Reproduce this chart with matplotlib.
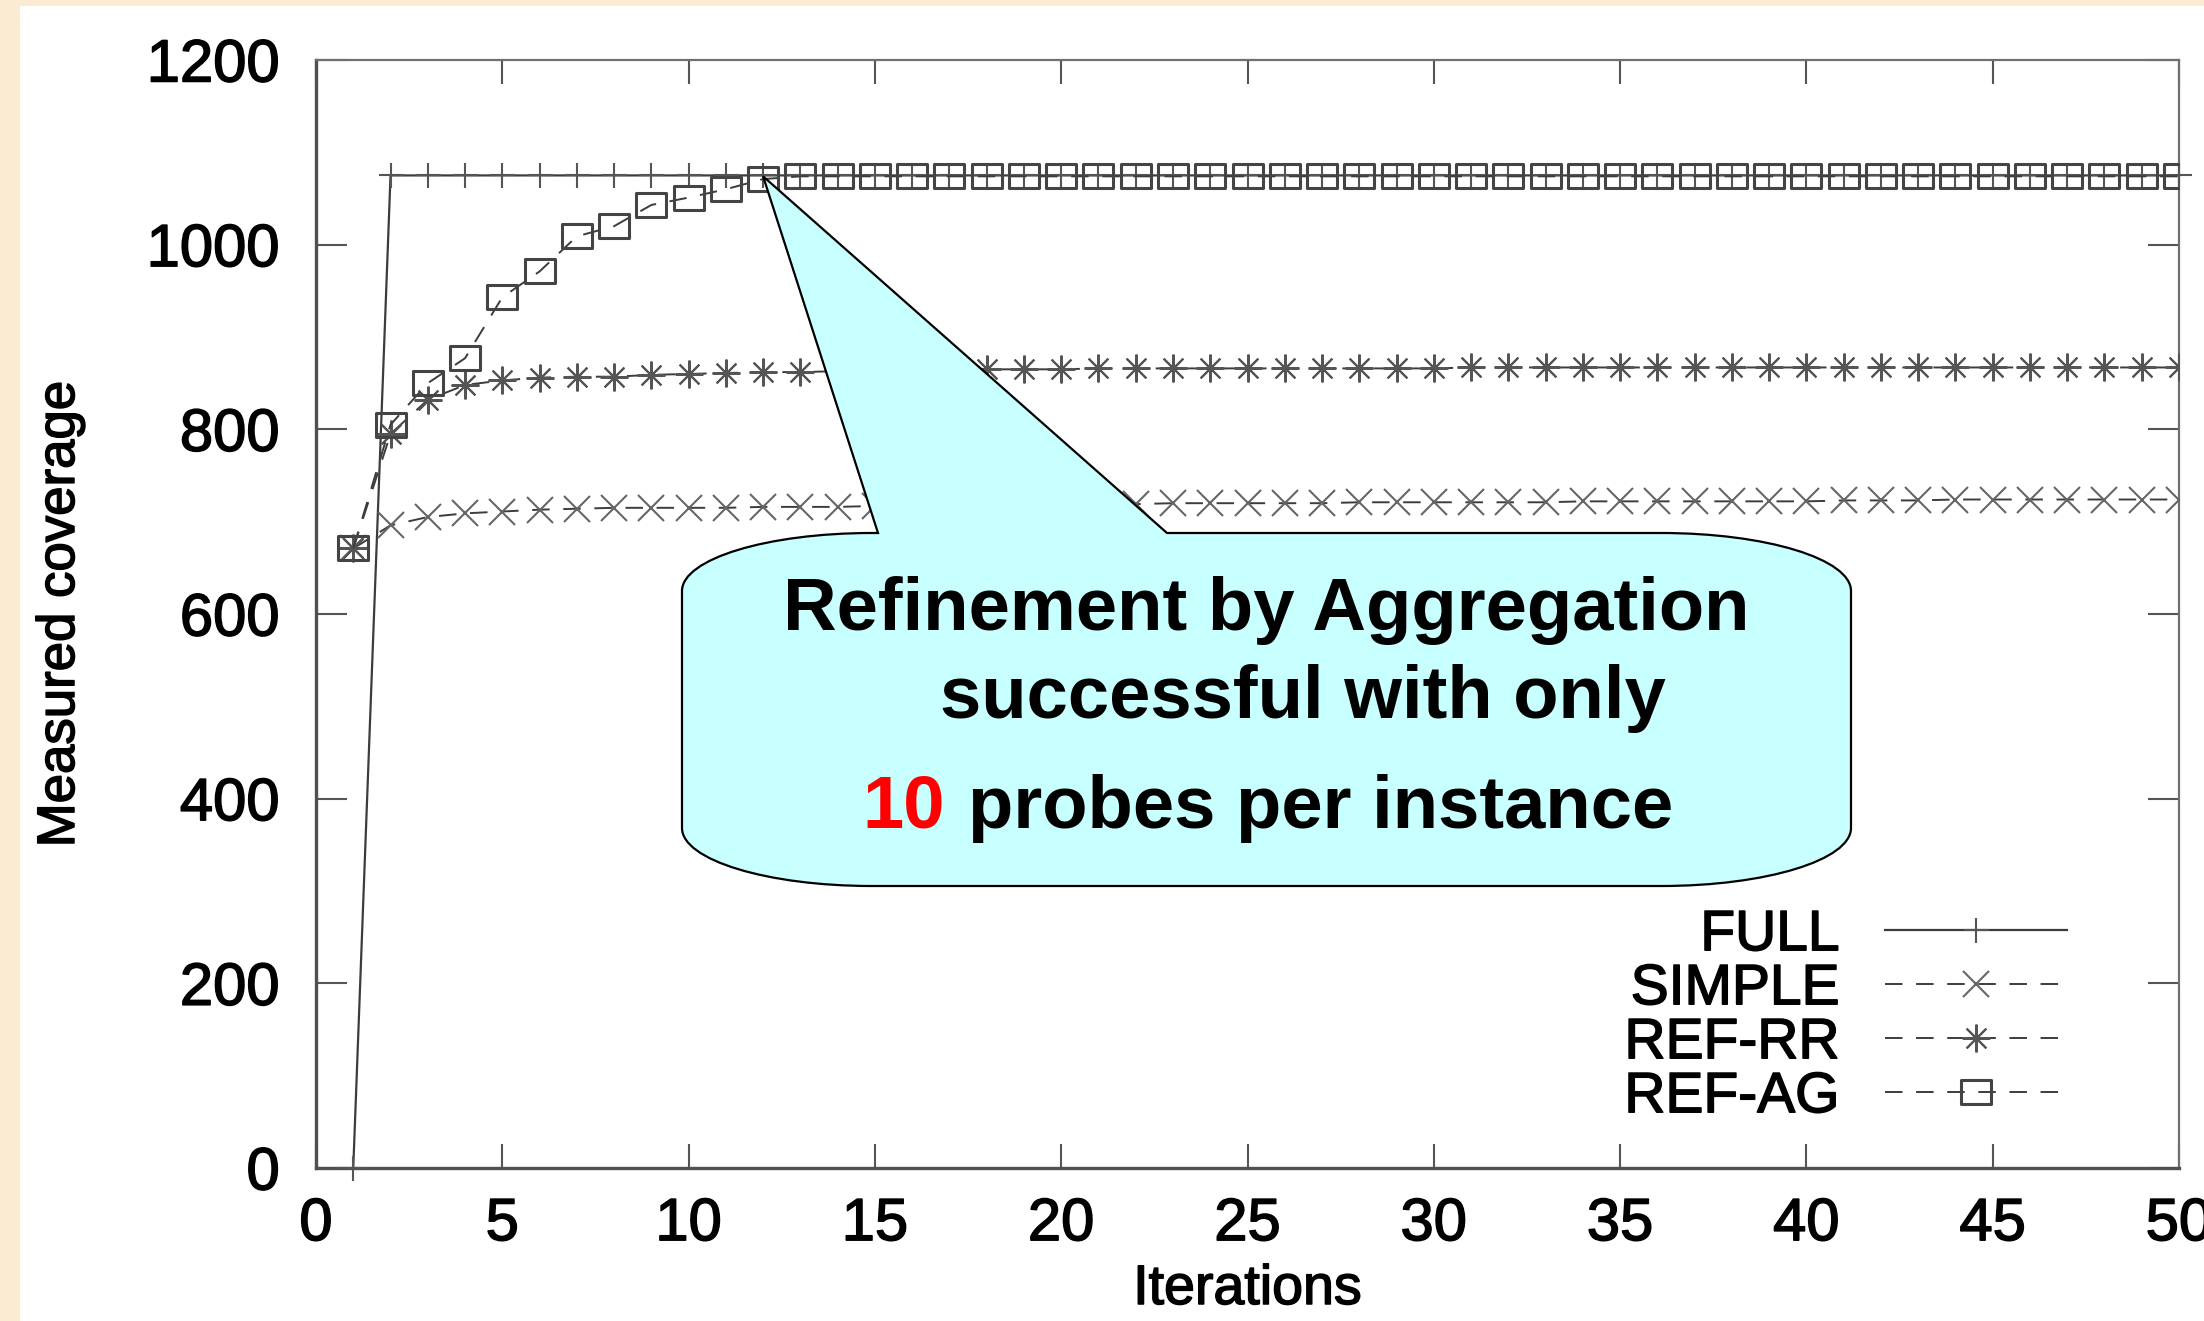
import matplotlib
matplotlib.use("Agg")
import matplotlib.pyplot as plt
import matplotlib.patheffects as pe
from matplotlib.path import Path
from matplotlib.patches import PathPatch, Rectangle

W, H = 2204, 1321
FONT = "Liberation Sans"

iterations = list(range(1, 51))

full = [0, 1075, 1075, 1075, 1075, 1075, 1075, 1075, 1075, 1075,
        1075, 1075, 1075, 1075, 1075, 1075, 1075, 1075, 1075, 1075,
        1075, 1075, 1075, 1075, 1075, 1075, 1075, 1075, 1075, 1075,
        1075, 1075, 1075, 1075, 1075, 1075, 1075, 1075, 1075, 1075,
        1075, 1075, 1075, 1075, 1075, 1075, 1075, 1075, 1075, 1075]

simple = [671, 696, 705, 709, 711, 713, 714, 715, 715, 715,
          715, 716, 716, 716, 717, 717, 717, 718, 718, 719,
          719, 719, 720, 720, 720, 720, 720, 721, 721, 721,
          721, 721, 721, 722, 722, 722, 722, 722, 722, 722,
          723, 723, 723, 724, 724, 724, 724, 724, 724, 724]

ref_rr = [671, 795, 832, 848, 853, 856, 857, 857, 859, 860,
          861, 862, 862, 863, 863, 864, 864, 865, 865, 865,
          866, 866, 866, 866, 866, 866, 866, 866, 866, 866,
          867, 867, 867, 867, 867, 867, 867, 867, 867, 867,
          867, 867, 867, 867, 867, 867, 867, 867, 867, 867]

ref_ag = [671, 805, 850, 877, 943, 971, 1009, 1020, 1043, 1051,
          1060, 1071, 1074, 1074, 1074, 1074, 1074, 1074, 1074, 1074,
          1074, 1074, 1074, 1074, 1074, 1074, 1074, 1074, 1074, 1074,
          1074, 1074, 1074, 1074, 1074, 1074, 1074, 1074, 1074, 1074,
          1074, 1074, 1074, 1074, 1074, 1074, 1074, 1074, 1074, 1074]

labels = ["FULL", "SIMPLE", "REF-RR", "REF-AG"]
xticks = [0, 5, 10, 15, 20, 25, 30, 35, 40, 45, 50]
yticks = [0, 200, 400, 600, 800, 1000, 1200]

fig = plt.figure(figsize=(W / 100, H / 100), dpi=100)
fig.patch.set_facecolor("white")
cream = "#fbebd3"
fig.patches.append(Rectangle((0, 0), 20 / W, 1, transform=fig.transFigure,
                             facecolor=cream, edgecolor="none", zorder=-5))
fig.patches.append(Rectangle((0, 1 - 6 / H), 1, 6 / H, transform=fig.transFigure,
                             facecolor=cream, edgecolor="none", zorder=-5))

ax = fig.add_axes([316 / W, 1 - 1168 / H, (2179 - 316) / W, (1168 - 60) / H])

line_c = "#3c3c3c"
mark_c = "#555555"
dash = (0, (9, 7))
heavy = [pe.withStroke(linewidth=1.1, foreground="black")]

# wide rectangle like the stretched gnuplot box
box = Path([(-1, -0.8), (1, -0.8), (1, 0.8), (-1, 0.8), (-1, -0.8)],
           [Path.MOVETO, Path.LINETO, Path.LINETO, Path.LINETO, Path.CLOSEPOLY])

ax.plot(iterations, full, color=line_c, lw=1.6, marker="+", ms=18, mew=1.5,
        mec=mark_c, label=labels[0], clip_on=False, zorder=3)
ax.plot(iterations, simple, color=line_c, lw=1.4, ls=dash, marker="x", ms=19,
        mew=1.5, mec="#666666", label=labels[1], zorder=3)
ax.plot(iterations, ref_rr, color=line_c, lw=1.4, ls=dash, marker=(8, 2, 0), ms=20,
        mew=1.5, mec="#555555", label=labels[2], zorder=3)
ax.plot(iterations, ref_ag, color=line_c, lw=1.4, ls=dash, marker=box, ms=21,
        mew=2.2, mec="#444444", mfc="none", label=labels[3], zorder=3)

ax.set_xlim(0, 50)
ax.set_ylim(0, 1200)
ax.set_xticks(xticks)
ax.set_yticks(yticks)
ax.tick_params(axis="both", which="major", direction="in", top=True, right=True,
               width=1.5, color="#555555", labelsize=43, labelcolor="black")
ax.tick_params(axis="y", length=22, pad=26)
ax.tick_params(axis="x", length=17, pad=21)
for lab in ax.get_xticklabels() + ax.get_yticklabels():
    lab.set_family(FONT)
    lab.set_path_effects(heavy)

for side in ["left", "bottom"]:
    ax.spines[side].set_color("#505050")
    ax.spines[side].set_linewidth(2.4)
for side in ["top", "right"]:
    ax.spines[side].set_color("#707070")
    ax.spines[side].set_linewidth(1.6)

ax.set_xlabel("Iterations", fontsize=40, family=FONT)
ax.xaxis.set_label_coords(0.5, (1168 - 1290) / (1168 - 60))
ax.xaxis.label.set_va("center")
ax.xaxis.label.set_path_effects(heavy)
ax.set_ylabel("Measured coverage", fontsize=38, family=FONT)
ax.yaxis.set_label_coords((60 - 316) / (2179 - 316), 0.5)
ax.yaxis.label.set_va("center")
ax.yaxis.label.set_path_effects(heavy)

leg = ax.legend(loc="center right", bbox_to_anchor=(0.940, 0.137), frameon=False,
                markerfirst=False, numpoints=1, handlelength=3.2, handletextpad=0.8,
                labelspacing=0.0, borderpad=0, borderaxespad=0,
                prop={"family": FONT, "size": 41})
for t in leg.get_texts():
    t.set_path_effects(heavy)

# callout bubble, built in pixel coords (y down) then moved to figure coords
fig.canvas.draw()
tip_disp = ax.transData.transform((iterations[11], ref_ag[12]))
tip = (tip_disp[0], H - tip_disp[1])

L, R, T, B = 682, 1851, 533, 886
rx, ry = 190, 58
k = 0.5523
wl, wr = 878, 1167
verts = [
    (wl, T), tip, (wr, T), (R - rx, T),
    (R - rx + k * rx, T), (R, T + ry - k * ry), (R, T + ry),
    (R, B - ry),
    (R, B - ry + k * ry), (R - rx + k * rx, B), (R - rx, B),
    (L + rx, B),
    (L + rx - k * rx, B), (L, B - ry + k * ry), (L, B - ry),
    (L, T + ry),
    (L, T + ry - k * ry), (L + rx - k * rx, T), (L + rx, T),
    (wl, T), (wl, T),
]
codes = [Path.MOVETO, Path.LINETO, Path.LINETO, Path.LINETO,
         Path.CURVE4, Path.CURVE4, Path.CURVE4,
         Path.LINETO,
         Path.CURVE4, Path.CURVE4, Path.CURVE4,
         Path.LINETO,
         Path.CURVE4, Path.CURVE4, Path.CURVE4,
         Path.LINETO,
         Path.CURVE4, Path.CURVE4, Path.CURVE4,
         Path.LINETO, Path.CLOSEPOLY]
verts = [(x / W, 1 - y / H) for x, y in verts]
bubble = PathPatch(Path(verts, codes), facecolor="#c8ffff", edgecolor="black",
                   lw=1.6, transform=fig.transFigure, zorder=10)
fig.patches.append(bubble)

txt = dict(fontsize=53.5, weight="bold", family=FONT, va="baseline", ha="left", zorder=11)
fig.text(783 / W, 1 - 630 / H, "Refinement by Aggregation", color="black", **txt)
fig.text(940 / W, 1 - 718 / H, "successful with only", color="black", **txt)
fig.text(862 / W, 1 - 828 / H, "10", color="#ff0000", **txt)
fig.text(968 / W, 1 - 828 / H, "probes per instance", color="black", **txt)

fig.savefig("out.png", dpi=100)
